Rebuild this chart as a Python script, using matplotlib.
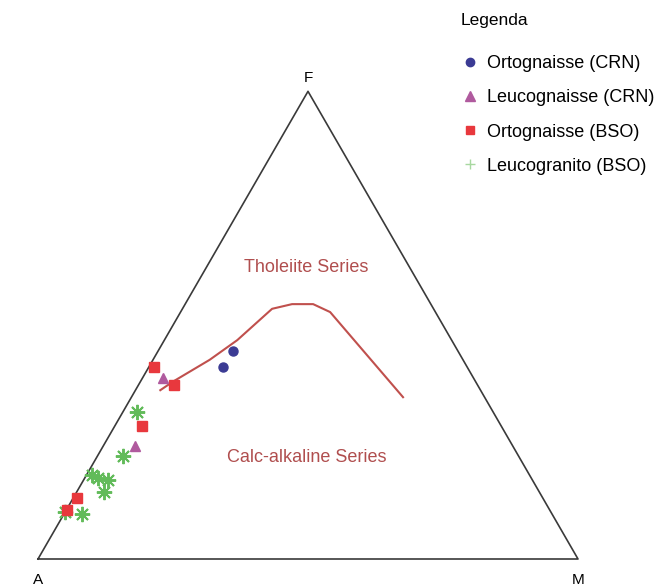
import numpy as np
import matplotlib.pyplot as plt
from matplotlib.lines import Line2D

plt.rcParams['font.family'] = ['Liberation Sans', 'DejaVu Sans']

# ternary values (A, F, M) in %
orto_crn_a = [41.7, 45.2]
orto_crn_f = [44.5, 41.1]
orto_crn_m = [13.9, 13.7]

leuco_crn_a = [57.5, 70.0]
leuco_crn_f = [38.7, 24.2]
leuco_crn_m = [3.8, 5.9]

orto_bso_a = [58.0, 56.2, 66.5, 86.3, 89.4]
orto_bso_f = [41.0, 37.2, 28.4, 13.0, 10.5]
orto_bso_m = [1.0, 6.6, 5.1, 0.7, 0.1]

leucogr_a = [66.0, 73.3, 81.0, 80.2, 78.6, 80.6, 90.0, 87.0]
leucogr_f = [31.4, 22.0, 18.0, 17.3, 16.9, 14.3, 10.0, 9.6]
leucogr_m = [2.6, 4.7, 1.0, 2.5, 4.5, 5.1, 0.0, 3.4]

# Irvine & Baragar dividing line
curve_a = [59.3, 56.1, 46.9, 39.7, 29.9, 25.7, 21.8, 19.5, 15.1]
curve_f = [36.1, 37.9, 42.6, 46.8, 53.5, 54.5, 54.5, 52.8, 34.6]
curve_m = [4.6, 6.0, 10.5, 13.5, 16.6, 19.8, 23.7, 27.7, 50.3]


def to_xy(a, f, m):
    a, f, m = np.asarray(a, float), np.asarray(f, float), np.asarray(m, float)
    s = a + f + m
    f, m = f / s, m / s
    return m + f / 2, f * np.sqrt(3) / 2


fig = plt.figure(figsize=(6.6, 5.87), dpi=100)
ax = fig.add_axes([0, 0, 1, 1])
ax.set_xlim(-38 / 540, 622 / 540)
ax.set_ylim(-28 / 540, 559 / 540)
ax.axis('off')

tx, ty = to_xy([100, 0, 0, 100], [0, 100, 0, 0], [0, 0, 100, 0])
ax.plot(tx, ty, color='#3a3a3a', lw=1.2, zorder=1)

cx, cy = to_xy(curve_a, curve_f, curve_m)
ax.plot(cx, cy, color='#c0504d', lw=1.5, zorder=2)

x, y = to_xy(leucogr_a, leucogr_f, leucogr_m)
ax.plot(x, y, ls='none', marker=(8, 2, 0), ms=11, mew=1.4, color='#62bb5a', zorder=3)
x, y = to_xy(orto_bso_a, orto_bso_f, orto_bso_m)
ax.plot(x, y, ls='none', marker='s', ms=6.5, color='#e8383d', zorder=4)
x, y = to_xy(leuco_crn_a, leuco_crn_f, leuco_crn_m)
ax.plot(x, y, ls='none', marker='^', ms=7.5, color='#b05a9e', zorder=4)
x, y = to_xy(orto_crn_a, orto_crn_f, orto_crn_m)
ax.plot(x, y, ls='none', marker='o', ms=6.5, color='#3b3b94', zorder=4)

# vertex labels
ax.text(tx[1], ty[1] + 0.012, 'F', ha='center', va='bottom', fontsize=11)
ax.text(tx[0], ty[0] - 0.026, 'A', ha='center', va='top', fontsize=11)
ax.text(tx[2], ty[2] - 0.026, 'M', ha='center', va='top', fontsize=11)

ax.text(*to_xy(19.2, 62.4, 18.4), 'Tholeiite Series', ha='center', va='center',
        fontsize=13, color='#b04e4e')
ax.text(*to_xy(39.3, 21.8, 38.9), 'Calc-alkaline Series', ha='center', va='center',
        fontsize=13, color='#b04e4e')

handles = [
    Line2D([], [], ls='none', marker='o', ms=6, color='#3b3b94'),
    Line2D([], [], ls='none', marker='^', ms=7, color='#b05a9e'),
    Line2D([], [], ls='none', marker='s', ms=6, color='#e8383d'),
    Line2D([], [], ls='none', marker='+', ms=7, color='#a8d8a0'),
]
labels = ['Ortognaisse (CRN)', 'Leucognaisse (CRN)', 'Ortognaisse (BSO)', 'Leucogranito (BSO)']
fig.text(461 / 660, 1 - 20 / 587, 'Legenda', ha='left', va='center', fontsize=12.5)
leg = fig.legend(handles, labels, loc='upper left',
                 bbox_to_anchor=(446 / 660, 1 - 39 / 587), frameon=False,
                 fontsize=13, labelspacing=0.95,
                 handlelength=0.9, handletextpad=0.45)

fig.savefig('out.png', dpi=100)
